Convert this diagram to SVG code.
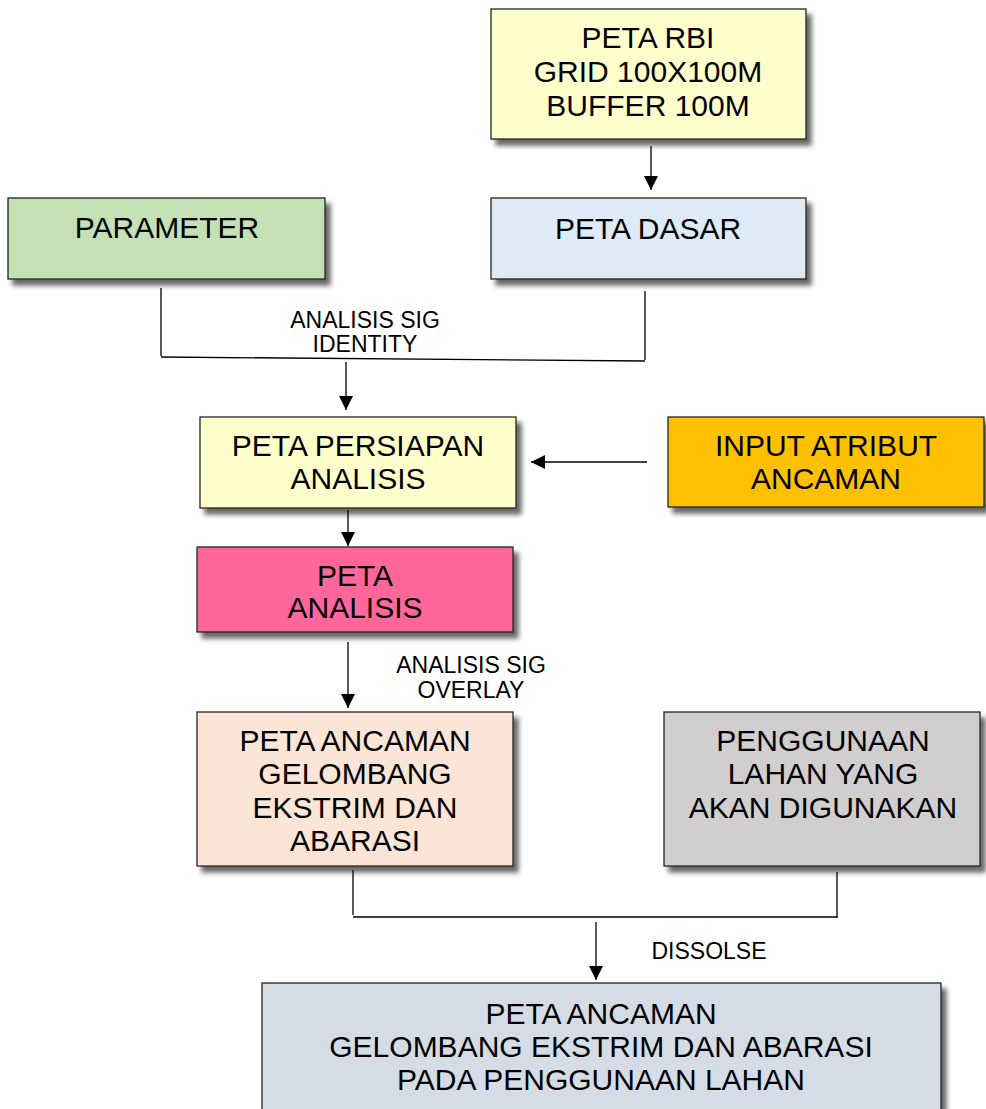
<svg xmlns="http://www.w3.org/2000/svg" width="986" height="1109" viewBox="0 0 986 1109">
<style>
.box{stroke:#222;stroke-width:1.3;filter:url(#sh)}
.t{font-family:"Liberation Sans",Arial,sans-serif;font-size:30px;fill:#000;text-anchor:middle}
.l{font-family:"Liberation Sans",Arial,sans-serif;font-size:23px;fill:#000;text-anchor:middle}
.c{stroke:#000;stroke-width:1.3;fill:none}
.a{stroke:#000;stroke-width:1.3;fill:none;marker-end:url(#ah)}
</style>
<defs>
<filter id="sh" x="-10%" y="-10%" width="125%" height="130%">
<feDropShadow dx="5" dy="6" stdDeviation="2.5" flood-color="#000" flood-opacity="0.6"/>
</filter>
<marker id="ah" markerWidth="14" markerHeight="14" refX="14" refY="7" orient="auto" markerUnits="userSpaceOnUse">
<path d="M0,0 L14,7 L0,14 Z" fill="#000"/>
</marker>
</defs>
<rect width="986" height="1109" fill="#fff"/>
<g id="connectors">
<path class="a" d="M651,146 V190"/>
<path class="c" d="M161,288 V356"/>
<path class="c" d="M645,291 V360"/>
<path class="c" d="M161,357 L645,361"/>
<path class="a" d="M346,362 V410"/>
<path class="a" d="M348,510 V546"/>
<path class="a" d="M647,462 H531"/>
<path class="a" d="M348,642 V708"/>
<path class="c" d="M353,870 V915"/>
<path class="c" d="M837,872 V918"/>
<path class="c" d="M353,917 H837"/>
<path class="a" d="M596,922 V980"/>
<text class="l" x="365" y="328">ANALISIS SIG</text>
<text class="l" x="365" y="352">IDENTITY</text>
<text class="l" x="471" y="673">ANALISIS SIG</text>
<text class="l" x="471" y="698">OVERLAY</text>
<text class="l" x="709" y="959">DISSOLSE</text>
</g>
<g id="peta-rbi">
<rect class="box" x="491" y="9" width="315" height="130" fill="#FFFFCC"/>
<text class="t" x="648" y="48">PETA RBI</text>
<text class="t" x="648" y="82">GRID 100X100M</text>
<text class="t" x="648" y="116">BUFFER 100M</text>
</g>
<g id="peta-dasar">
<rect class="box" x="491" y="198" width="315" height="81" fill="#DEEAF6"/>
<text class="t" x="648" y="239">PETA DASAR</text>
</g>
<g id="parameter">
<rect class="box" x="8" y="198" width="317" height="81" fill="#C5E0B4"/>
<text class="t" x="167" y="238">PARAMETER</text>
</g>
<g id="peta-persiapan">
<rect class="box" x="200" y="417" width="316" height="91" fill="#FFFFCC"/>
<text class="t" x="358" y="456">PETA PERSIAPAN</text>
<text class="t" x="358" y="489">ANALISIS</text>
</g>
<g id="input-atribut">
<rect class="box" x="668" y="417" width="316" height="90" fill="#FFC000"/>
<text class="t" x="826" y="456">INPUT ATRIBUT</text>
<text class="t" x="826" y="489">ANCAMAN</text>
</g>
<g id="peta-analisis">
<rect class="box" x="197" y="547" width="316" height="85" fill="#FF6699"/>
<text class="t" x="355" y="586">PETA</text>
<text class="t" x="355" y="618">ANALISIS</text>
</g>
<g id="peta-ancaman">
<rect class="box" x="197" y="712" width="316" height="154" fill="#FBE5D6"/>
<text class="t" x="355" y="751">PETA ANCAMAN</text>
<text class="t" x="355" y="784">GELOMBANG</text>
<text class="t" x="355" y="818">EKSTRIM DAN</text>
<text class="t" x="355" y="851">ABARASI</text>
</g>
<g id="penggunaan-lahan">
<rect class="box" x="664" y="712" width="316" height="154" fill="#D0CECE"/>
<text class="t" x="823" y="751">PENGGUNAAN</text>
<text class="t" x="823" y="784">LAHAN YANG</text>
<text class="t" x="823" y="818">AKAN DIGUNAKAN</text>
</g>
<g id="peta-akhir">
<rect class="box" x="262" y="983" width="679" height="140" fill="#D6DCE5"/>
<text class="t" x="601" y="1024">PETA ANCAMAN</text>
<text class="t" x="601" y="1057">GELOMBANG EKSTRIM DAN ABARASI</text>
<text class="t" x="601" y="1090">PADA PENGGUNAAN LAHAN</text>
</g>
</svg>
